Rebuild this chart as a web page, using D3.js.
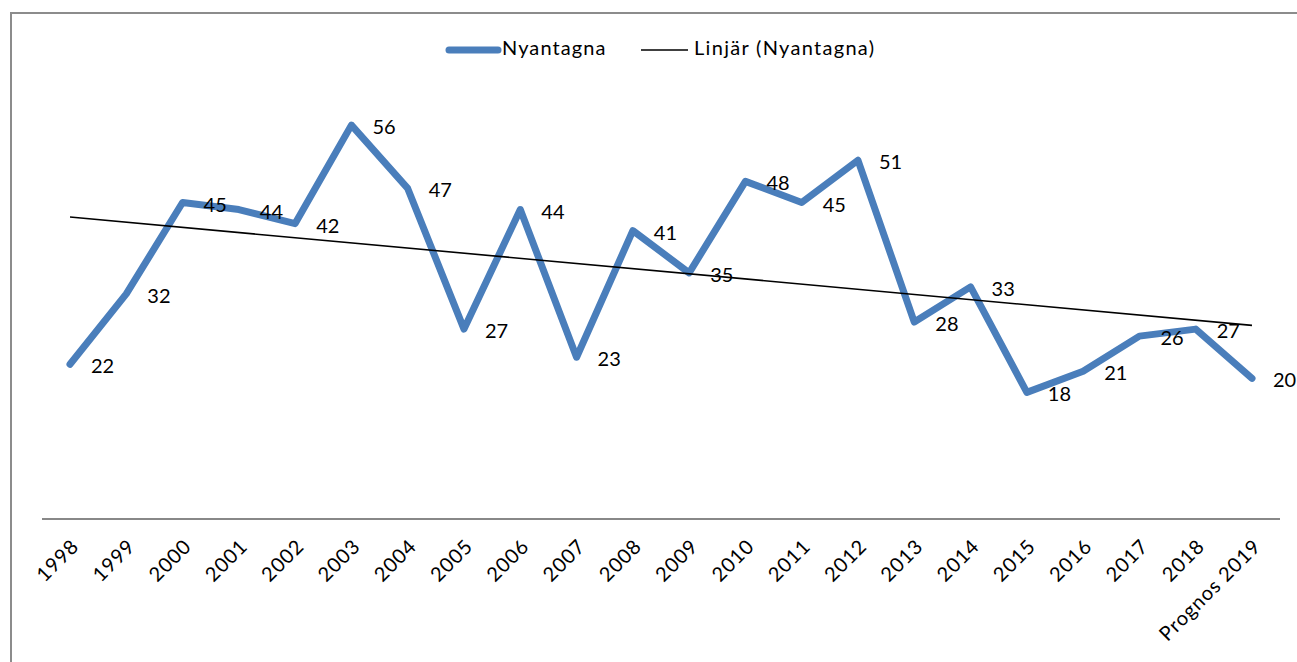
<!DOCTYPE html>
<html><head><meta charset="utf-8">
<script src="https://cdn.jsdelivr.net/npm/d3@7"></script>
<style>body{margin:0;background:#fff;} svg{display:block;}</style>
</head><body>
<svg id="c" width="1297" height="662"></svg>
<script>
const categories = ["1998","1999","2000","2001","2002","2003","2004","2005","2006","2007","2008","2009","2010","2011","2012","2013","2014","2015","2016","2017","2018","Prognos 2019"];
const values = [22,32,45,44,42,56,47,27,44,23,41,35,48,45,51,28,33,18,21,26,27,20];
const seriesName = "Nyantagna";
const trendName = "Linjär (Nyantagna)";

const FONT = "Lato, 'Open Sans', sans-serif";
const svg = d3.select("#c");

// frame
svg.append("rect").attr("x",11).attr("y",13).attr("width",1400).attr("height",800)
  .attr("fill","none").attr("stroke","#8c8c8c").attr("stroke-width",2);

const x = d3.scalePoint().domain(categories).range([70,1252]);
const y = d3.scaleLinear().domain([0,60]).range([519,97]);

// axis baseline
svg.append("line").attr("x1",42).attr("x2",1280).attr("y1",y(0)).attr("y2",y(0))
  .attr("stroke","#888").attr("stroke-width",2);

// x tick labels
const xa = d3.axisBottom(x).tickSize(0).tickPadding(0);
const gx = svg.append("g").attr("transform",`translate(0,${y(0)})`).call(xa);
gx.select(".domain").remove();
gx.selectAll("text")
  .attr("font-family",FONT).attr("font-size",20).attr("fill","#000")
  .attr("letter-spacing",0.9)
  .attr("text-anchor","end").attr("dy",null).attr("y",null)
  .attr("transform","translate(6,25) rotate(-45)")
  .attr("dominant-baseline","middle");

// trendline (least squares)
const n = values.length;
const xs = d3.range(n);
const mx = d3.mean(xs), my = d3.mean(values);
const slope = d3.sum(xs, i => (i-mx)*(values[i]-my)) / d3.sum(xs, i => (i-mx)*(i-mx));
const intercept = my - slope*mx;

// main line
const line = d3.line().x((d,i)=>x(categories[i])).y(d=>y(d));
svg.append("path").datum(values).attr("d",line)
  .attr("fill","none").attr("stroke","#4A7EBB").attr("stroke-width",7)
  .attr("stroke-linejoin","round").attr("stroke-linecap","round");

svg.append("line")
  .attr("x1",x(categories[0])).attr("y1",y(intercept))
  .attr("x2",x(categories[n-1])).attr("y2",y(intercept+slope*(n-1)))
  .attr("stroke","#000").attr("stroke-width",1.6);

// data labels
svg.append("g").selectAll("text").data(values).join("text")
  .attr("x",(d,i)=>x(categories[i])+21).attr("y",d=>y(d)+4)
  .attr("dominant-baseline","middle")
  .attr("font-family",FONT).attr("font-size",20).attr("fill","#000")
  .text(d=>d);

// legend
const lg = svg.append("g");
lg.append("line").attr("x1",449).attr("x2",498).attr("y1",50).attr("y2",50)
  .attr("stroke","#4A7EBB").attr("stroke-width",7).attr("stroke-linecap","round");
lg.append("text").attr("x",502).attr("y",50).attr("dominant-baseline","middle")
  .attr("font-family",FONT).attr("font-size",20).attr("letter-spacing",1.1).text(seriesName);
lg.append("line").attr("x1",641).attr("x2",688).attr("y1",50).attr("y2",50)
  .attr("stroke","#000").attr("stroke-width",1.6);
lg.append("text").attr("x",694).attr("y",50).attr("dominant-baseline","middle")
  .attr("font-family",FONT).attr("font-size",20).attr("letter-spacing",1.3).text(trendName);
</script>
</body></html>
